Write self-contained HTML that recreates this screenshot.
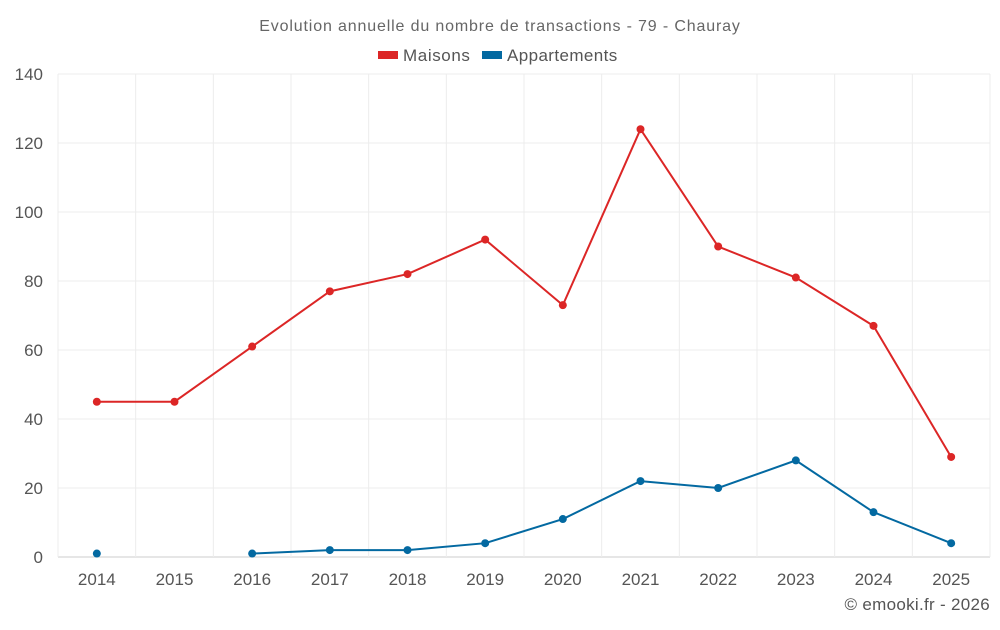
<!DOCTYPE html>
<html><head><meta charset="utf-8"><style>
body{margin:0;background:#fff;font-family:"Liberation Sans",sans-serif}
svg text{font-family:"Liberation Sans",sans-serif}
</style></head><body>
<svg id="c" width="1000" height="625">
<text x="500" y="31" text-anchor="middle" font-size="16" letter-spacing="0.85" fill="#666">Evolution annuelle du nombre de transactions - 79 - Chauray</text>
<g>
<g><rect x="378" y="51" width="20" height="8" fill="#dc2626"/><text x="403" y="61" font-size="17" letter-spacing="0.6" fill="#555">Maisons</text></g>
<g><rect x="482" y="51" width="20" height="8" fill="#0369a1"/><text x="507" y="61" font-size="17" letter-spacing="0.4" fill="#555">Appartements</text></g>
</g>
<g id="grid"></g><g id="axes"></g><g id="series"></g>
<text x="990" y="610" text-anchor="end" font-size="17" letter-spacing="0.3" fill="#555">© emooki.fr - 2026</text>
</svg>
<script>
const categories=["2014","2015","2016","2017","2018","2019","2020","2021","2022","2023","2024","2025"];
const maisons=[45,45,61,77,82,92,73,124,90,81,67,29];
const appartements=[1,null,1,2,2,4,11,22,20,28,13,4];
const yTicks=[0,20,40,60,80,100,120,140];
const NS="http://www.w3.org/2000/svg";
const L=58,R=990,T=74,B=557,yMax=140;
const step=(R-L)/categories.length;
const x=i=>L+step*(i+0.5);
const y=v=>B-(v/yMax)*(B-T);
function el(t,a,p){const e=document.createElementNS(NS,t);for(const k in a)e.setAttribute(k,a[k]);p.appendChild(e);return e;}
const g=document.getElementById('grid'),ax=document.getElementById('axes'),s=document.getElementById('series');
yTicks.forEach(v=>{
 const ln=el('line',{x1:L,x2:R,y1:y(v),y2:y(v),stroke:v===0?'#ccc':'#ececec'},g);
 
 
 const t=el('text',{x:43,y:y(v)+6,'text-anchor':'end','font-size':17,fill:'#555'},ax);t.textContent=v;
 
 
});
for(let i=0;i<=categories.length;i++){
 const ln=el('line',{x1:L+step*i,x2:L+step*i,y1:T,y2:B,stroke:'#ececec'},g);
 
 
}
categories.forEach((c,i)=>{
 const t=el('text',{x:x(i),y:585,'text-anchor':'middle','font-size':17,fill:'#555'},ax);t.textContent=c;
 
 
});
function draw(data,color,name){
 let d='',pen=false;
 data.forEach((v,i)=>{if(v==null){pen=false;return;}d+=(pen?'L':'M')+x(i)+' '+y(v)+' ';pen=true;});
 const p=el('path',{d:d,fill:'none',stroke:color,'stroke-width':2},s);
 
 
 data.forEach((v,i)=>{if(v==null)return;
  const c=el('circle',{cx:x(i),cy:y(v),r:4,fill:color},s);
  
  
 });
}
draw(maisons,'#dc2626','maisons');
draw(appartements,'#0369a1','appartements');
</script>
</body></html>
